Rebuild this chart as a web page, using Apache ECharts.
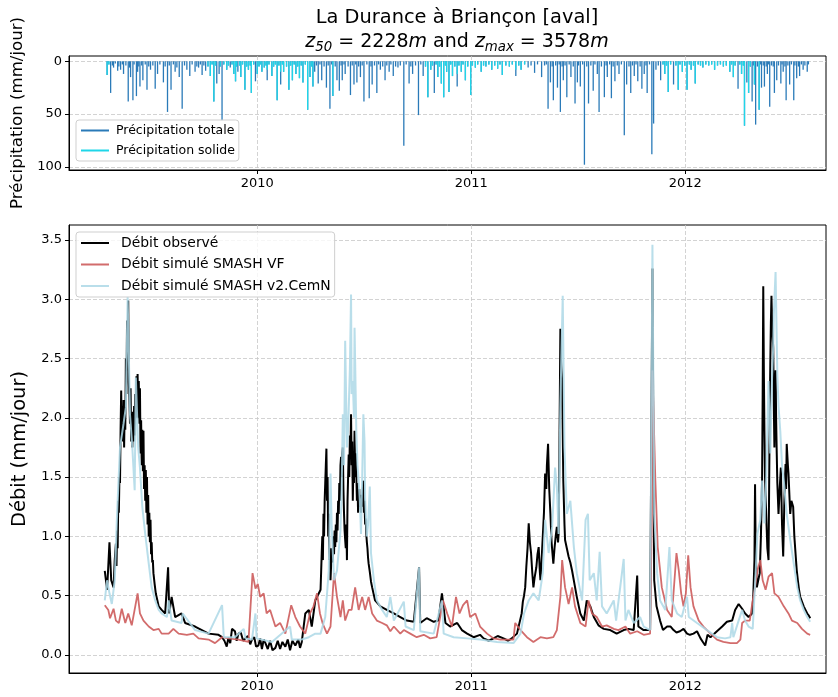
<!DOCTYPE html>
<html>
<head>
<meta charset="utf-8">
<script src="https://cdn.jsdelivr.net/npm/echarts@6/dist/echarts.min.js"></script>
<style>
html,body{margin:0;padding:0;background:#fff;}
#chart{width:838px;height:697px;}
</style>
</head>
<body>
<div id="chart"></div>
<script>
// ---- Data (time in days counted from 2010-01-01) ----
const ORIGIN = '2010-01-01';
const yearTicks = ['2010-01-01', '2011-01-01', '2012-01-01'];

// main precipitation events
const precipDays  = [-256,-250,-245,-238,-233,-228,-220,-216,-212,-206,-204,-200,-195,-188,-182,-174,-170,-160,-153,-147,-140,-133,-128,-120,-115,-106,-100,-94,-88,-80,-74,-69,-65,-60,-52,-46,-40,-37,-33,-28,-21,-15,-10,-3,0,8,12,17,25,34,40,45,54,60,66,72,78,86,90,95,98,104,110,118,124,129,136,140,145,150,159,165,170,176,182,191,196,204,210,218,225,232,240,250,259,265,275,283,291,296,302,308,314,318,323,327,333,341,348,355,364,372,382,390,400,410,418,430,441,450,462,473,485,496,500,505,512,517,522,528,535,542,546,551,558,565,573,580,583,592,597,604,610,617,626,630,637,643,649,656,660,665,673,676,680,688,695,701,710,718,725,733,740,747,760,780,795,806,812,820,826,831,835,838,844,848,850,856,860,865,870,874,882,886,893,897,902,908,915,920,925,931,938];
const precipTotal = [13,30,6,9,8,12,38,15,37,33,10,24,18,27,8,26,12,20,48,27,10,15,45,8,14,10,6,13,9,14,38,21,12,56,8,6,12,19,10,15,27,8,30,19,12,10,6,18,14,37,22,10,27,18,12,16,20,46,15,24,10,21,18,25,45,33,18,28,18,12,32,22,20,15,38,35,22,30,8,18,10,14,6,80,21,12,51,14,34,8,30,15,21,34,10,29,14,24,10,18,32,6,10,5,8,7,13,5,14,8,6,11,15,45,20,37,25,48,18,34,15,40,20,24,98,40,28,12,48,34,15,35,19,12,70,22,30,14,19,26,12,30,88,59,8,18,12,29,22,27,10,27,8,21,6,8,5,10,15,26,12,61,20,30,38,22,60,46,25,24,12,43,30,18,21,10,37,22,37,16,14,8,10];
const precipSolid = [13,0,0,0,0,0,0,0,0,0,0,0,0,0,0,0,0,0,0,0,0,0,0,0,0,0,0,0,0,14,38,0,0,0,8,0,12,19,0,15,27,8,30,0,12,10,6,8,14,37,10,10,27,18,12,16,20,46,15,24,0,0,0,0,0,33,0,0,0,0,0,0,0,0,0,0,0,0,0,0,0,0,0,0,0,0,0,0,34,8,0,15,21,34,10,29,14,12,10,18,32,6,10,5,8,7,13,5,8,8,0,0,0,0,0,0,0,0,0,0,0,0,0,0,0,0,0,0,0,0,0,0,0,0,0,0,0,0,0,0,0,0,0,0,0,0,12,29,0,27,10,27,8,21,6,8,5,10,15,0,12,61,0,30,0,22,0,46,0,0,0,0,0,0,0,0,0,0,0,0,0,0,0];
// small daily amounts: [day, total, solid]
const precipSmall = [[-253,3,3],[-247,4,0],[-242,2,0],[-236,5,0],[-230,3,0],[-224,4,0],[-218,6,0],[-210,3,0],[-202,5,0],[-197,4,0],[-191,3,0],[-185,5,0],[-178,4,0],[-166,3,0],[-157,5,0],[-150,4,0],[-143,3,0],[-137,6,0],[-124,4,0],[-111,3,0],[-103,5,0],[-97,3,0],[-91,4,0],[-84,5,5],[-77,3,3],[-71,4,4],[-63,5,5],[-57,3,3],[-49,4,4],[-43,3,3],[-35,5,5],[-30,4,4],[-25,3,3],[-18,5,5],[-12,4,4],[-6,3,3],[3,5,5],[5,3,3],[15,4,4],[20,3,3],[28,5,5],[31,3,3],[37,4,4],[43,3,3],[50,5,5],[57,4,4],[63,3,3],[69,5,5],[75,4,4],[82,3,3],[93,5,5],[101,4,0],[107,3,0],[114,5,0],[121,4,0],[127,3,0],[133,5,0],[143,4,0],[148,3,0],[155,5,0],[162,4,0],[168,3,0],[173,5,0],[179,4,0],[187,3,0],[194,5,0],[200,4,0],[207,3,0],[214,5,0],[221,4,0],[228,3,0],[236,5,0],[244,4,0],[254,3,0],[262,5,0],[270,4,0],[279,3,0],[287,5,5],[299,4,4],[305,3,3],[311,5,5],[321,4,4],[330,3,3],[337,5,5],[344,4,4],[351,3,3],[359,5,5],[367,4,4],[376,3,3],[386,4,4],[395,3,3],[405,4,4],[414,3,3],[424,4,4],[435,3,3],[446,4,4],[456,3,3],[467,4,0],[478,3,0],[490,4,0],[493,3,0],[503,5,0],[509,4,0],[515,3,0],[520,5,0],[525,4,0],[532,3,0],[539,5,0],[548,4,0],[555,3,0],[562,5,0],[569,4,0],[576,3,0],[587,5,0],[595,4,0],[601,3,0],[607,5,0],[614,4,0],[621,3,0],[634,5,0],[640,4,0],[646,3,0],[653,5,0],[663,4,0],[669,3,0],[684,4,0],[692,3,3],[698,4,4],[705,3,3],[714,4,4],[721,3,3],[729,4,4],[737,3,3],[744,4,4],[752,3,3],[756,4,4],[765,3,3],[770,4,4],[775,3,3],[785,4,4],[790,3,3],[800,4,4],[809,3,3],[815,4,4],[823,3,3],[829,4,4],[841,5,5],[846,4,0],[853,5,0],[858,3,0],[863,4,0],[868,5,0],[872,3,0],[877,4,0],[880,5,0],[889,4,0],[895,3,0],[900,5,0],[905,4,0],[911,3,0],[917,4,0],[923,5,0],[928,3,0],[934,4,0],[940,3,0]];

// observed discharge: [day, mm/jour]
const observed = [[-260,.71],[-256,.55],[-252,.95],[-249,.63],[-245,.57],[-243,.8],[-241,.94],[-240,.75],[-239,1.05],[-238,.9],[-237,1.3],[-236,1.2],[-235,1.5],[-234,1.45],[-233,1.9],[-232,2.23],[-231,1.85],[-230,2.1],[-229,1.8],[-228,2.15],[-227,1.75],[-226,2.09],[-225,1.9],[-224,2.5],[-223,2.2],[-222,2.82],[-221,2.4],[-220,2.99],[-219,2.3],[-218,2.17],[-217,1.95],[-216,2.25],[-215,1.8],[-214,2.0],[-213,1.75],[-212,2.05],[-211,1.8],[-210,2.1],[-209,1.85],[-208,2.2],[-207,2.0],[-206,2.35],[-205,2.05],[-204,2.37],[-203,2.0],[-202,2.31],[-201,1.95],[-200,2.25],[-199,1.7],[-198,1.98],[-197,1.6],[-196,1.9],[-195,1.55],[-194,1.89],[-193,1.4],[-192,1.6],[-191,1.3],[-190,1.56],[-189,1.2],[-188,1.5],[-187,1.1],[-186,1.35],[-185,1.0],[-184,1.2],[-183,.95],[-182,1.14],[-181,.85],[-180,.95],[-179,.78],[-178,.8],[-177,.69],[-175,.6],[-173,.52],[-168,.41],[-163,.38],[-157,.35],[-152,.74],[-150,.35],[-146,.49],[-140,.32],[-129,.35],[-123,.27],[-106,.24],[-83,.18],[-66,.17],[-60,.15],[-56,.12],[-52,.07],[-49,.15],[-46,.10],[-43,.22],[-38,.20],[-35,.12],[-32,.18],[-28,.19],[-24,.12],[-20,.14],[-16,.16],[-12,.09],[-9,.13],[-5,.15],[-2,.07],[2,.08],[5,.14],[8,.05],[11,.13],[14,.10],[18,.05],[22,.12],[26,.04],[31,.06],[35,.12],[39,.05],[43,.11],[48,.07],[52,.13],[56,.04],[60,.12],[65,.08],[70,.13],[73,.06],[76,.11],[82,.35],[88,.38],[93,.24],[99,.46],[103,.5],[108,.55],[109,.7],[110,.86],[111,1.0],[112,.8],[113,1.19],[114,1.0],[115,1.3],[116,1.45],[117,1.6],[118,1.74],[119,1.3],[120,1.5],[121,1.0],[122,1.19],[123,.8],[124,.9],[125,.63],[126,.75],[127,.9],[128,.78],[129,.83],[130,1.0],[131,.85],[132,1.05],[133,.91],[134,1.1],[135,.95],[136,1.2],[137,1.05],[138,1.3],[139,1.19],[140,1.45],[141,1.3],[142,1.6],[143,1.67],[144,1.5],[145,1.7],[146,1.75],[147,1.4],[148,1.2],[149,1.05],[150,.97],[151,.9],[152,1.1],[153,.8],[154,1.3],[155,1.5],[156,1.69],[157,1.5],[158,1.85],[159,1.7],[160,2.03],[161,1.6],[162,1.8],[163,1.3],[164,1.6],[165,1.45],[166,1.89],[167,1.5],[168,1.7],[169,1.53],[170,1.3],[171,1.45],[172,1.2],[173,1.19],[174,1.4],[175,1.25],[176,1.3],[177,1.2],[178,1.35],[179,1.25],[180,1.4],[181,1.47],[182,1.2],[183,1.3],[184,1.1],[185,1.15],[186,1.02],[187,.95],[188,.9],[189,.82],[190,.77],[192,.7],[194,.62],[196,.57],[201,.46],[210,.41],[221,.38],[233,.35],[244,.32],[255,.29],[267,.28],[276,.74],[278,.27],[289,.31],[301,.28],[309,.29],[315,.52],[321,.27],[329,.24],[341,.27],[349,.21],[358,.18],[369,.15],[380,.17],[386,.14],[395,.12],[403,.14],[410,.16],[420,.14],[428,.12],[434,.14],[443,.18],[451,.35],[453,.45],[455,.5],[457,.57],[459,.75],[461,.9],[463,1.11],[465,.95],[467,.86],[469,.7],[471,.57],[473,.65],[476,.74],[478,.85],[480,.91],[482,.7],[483,.63],[485,.8],[487,1.0],[489,1.2],[491,1.53],[493,1.4],[494,1.6],[496,1.78],[498,1.4],[500,1.19],[502,.95],[505,.77],[507,.9],[509,1.0],[511,1.08],[513,.95],[514,1.02],[515,1.5],[517,2.75],[518,2.5],[520,2.31],[521,1.9],[522,1.47],[524,1.1],[525,.97],[528,.9],[531,.83],[534,.78],[537,.71],[541,.6],[545,.49],[551,.35],[557,.29],[562,.46],[568,.41],[574,.32],[582,.25],[591,.22],[602,.21],[613,.18],[625,.21],[633,.22],[642,.21],[648,.67],[650,.24],[659,.21],[670,.21],[674,3.26],[677,.63],[681,.41],[687,.29],[692,.21],[699,.24],[705,.24],[710,.21],[715,.19],[721,.20],[727,.22],[733,.18],[738,.17],[744,.18],[750,.20],[756,.14],[760,.11],[764,.08],[768,.17],[773,.15],[784,.20],[793,.24],[801,.28],[810,.29],[815,.38],[821,.43],[827,.39],[832,.35],[838,.32],[844,.35],[846,.5],[848,.8],[849,1.44],[850,.9],[852,.57],[854,.62],[857,.69],[859,1.0],[861,1.47],[862,2.2],[863,3.11],[864,2.4],[865,1.89],[866,1.5],[868,1.19],[870,.9],[872,.8],[873,1.4],[874,2.0],[875,2.45],[876,2.8],[877,3.03],[878,2.8],[880,2.59],[881,2.1],[882,1.75],[883,2.2],[884,2.4],[885,1.98],[886,1.7],[887,1.45],[889,1.19],[891,1.4],[893,1.58],[895,1.1],[897,.83],[899,1.3],[901,1.61],[902,1.4],[903,1.78],[905,1.6],[906,1.53],[908,1.3],[909,1.19],[911,1.3],[914,1.25],[916,1.0],[918,.86],[920,.72],[922,.63],[924,.55],[926,.49],[929,.45],[932,.41],[935,.38],[938,.35],[941,.33],[943,.31]];

const vfDays = [-260,-254,-251,-245,-241,-236,-231,-225,-220,-214,-208,-204,-200,-194,-185,-177,-168,-163,-151,-143,-134,-120,-109,-100,-83,-72,-60,-49,-32,-15,-8,-3,1,5,11,16,22,31,39,48,58,65,73,82,90,96,102,107,112,119,125,131,136,142,146,150,156,161,167,173,179,184,190,196,204,213,221,227,233,244,250,261,272,284,295,306,317,324,332,339,345,351,358,363,372,380,392,403,415,426,437,440,449,460,471,483,494,505,511,517,520,525,531,537,542,551,560,565,571,579,588,596,608,616,628,636,648,659,670,673,674,679,683,690,699,707,715,719,723,727,731,735,739,744,753,761,773,784,795,807,818,824,827,832,840,845,849,853,858,862,867,872,878,882,889,898,906,912,921,929,938,943];
const vfQ    = [0.42,0.38,0.31,0.39,0.29,0.27,0.39,0.27,0.35,0.25,0.41,0.52,0.35,0.29,0.24,0.21,0.22,0.18,0.18,0.22,0.18,0.17,0.18,0.14,0.13,0.10,0.15,0.14,0.13,0.11,0.69,0.56,0.60,0.49,0.52,0.35,0.38,0.24,0.27,0.18,0.42,0.32,0.24,0.18,0.35,0.41,0.52,0.35,0.26,0.18,0.24,0.69,0.49,0.32,0.46,0.29,0.38,0.38,0.57,0.38,0.49,0.38,0.49,0.35,0.29,0.27,0.25,0.20,0.24,0.18,0.21,0.18,0.15,0.17,0.14,0.15,0.46,0.35,0.24,0.49,0.35,0.42,0.46,0.32,0.35,0.24,0.18,0.14,0.13,0.13,0.13,0.27,0.21,0.15,0.11,0.15,0.14,0.15,0.21,0.49,0.80,0.57,0.43,0.57,0.41,0.27,0.24,0.46,0.35,0.32,0.24,0.25,0.22,0.21,0.24,0.18,0.20,0.17,0.18,1.19,2.40,1.47,0.91,0.57,0.38,0.32,0.86,0.71,0.52,0.41,0.52,0.84,0.57,0.41,0.29,0.24,0.18,0.13,0.11,0.10,0.10,0.13,0.27,0.29,0.29,0.46,0.57,0.71,0.80,0.63,0.55,0.66,0.69,0.52,0.49,0.41,0.35,0.29,0.27,0.22,0.18,0.17];

// simulated discharge SMASH v2.CemN: [day, mm/jour]
const cemN = [[-260,.46],[-256,.63],[-252,.52],[-248,.43],[-243,.63],[-239,1.19],[-234,1.75],[-228,1.95],[-224,2.09],[-221,3.02],[-219,2.54],[-217,2.03],[-213,1.75],[-209,1.39],[-207,2.34],[-203,1.75],[-200,1.58],[-196,1.25],[-191,1.02],[-185,.77],[-180,.57],[-174,.46],[-168,.38],[-163,.35],[-154,.32],[-151,.46],[-146,.29],[-129,.27],[-127,.35],[-106,.21],[-83,.18],[-60,.42],[-57,.15],[-38,.15],[-23,.22],[-20,.14],[-9,.13],[-3,.35],[-1,.14],[25,.11],[56,.24],[59,.13],[76,.13],[88,.15],[99,.18],[108,.18],[116,.32],[122,.71],[125,1.53],[127,1.08],[131,.63],[136,.71],[142,1.05],[144,1.4],[146,2.03],[148,1.6],[150,2.65],[153,1.75],[155,1.9],[158,2.41],[160,3.04],[161,2.2],[163,2.31],[165,2.0],[166,2.76],[169,1.89],[171,1.6],[173,1.47],[175,1.3],[177,1.02],[179,1.5],[181,2.03],[183,1.8],[184,1.33],[187,1.00],[189,1.1],[192,1.42],[194,.86],[199,.63],[204,.46],[213,.38],[221,.32],[227,.49],[233,.29],[250,.45],[253,.24],[267,.21],[276,.74],[278,.20],[301,.18],[315,.46],[318,.18],[335,.15],[358,.14],[380,.13],[409,.11],[437,.10],[449,.18],[455,.35],[463,.46],[471,.52],[480,.46],[487,.69],[491,1.14],[497,.86],[503,1.08],[508,1.58],[511,1.42],[514,1.02],[517,2.12],[521,3.03],[524,1.75],[528,1.19],[534,1.30],[540,.91],[545,.69],[554,.46],[560,1.14],[564,1.19],[567,.63],[574,.69],[579,.46],[584,.87],[588,.41],[596,.35],[608,.46],[612,.29],[625,.81],[628,.29],[633,.38],[642,.27],[653,.32],[659,.24],[670,.21],[674,3.46],[677,1.19],[682,.69],[687,.46],[696,.38],[703,.91],[707,.46],[716,.35],[724,.32],[733,.49],[736,.32],[750,.27],[767,.21],[784,.15],[798,.14],[807,.15],[810,.27],[812,.15],[821,.29],[827,.38],[832,.29],[838,.24],[845,.22],[850,.69],[853,1.02],[858,1.14],[861,1.47],[863,1.3],[865,1.11],[868,1.47],[870,1.9],[872,2.31],[875,1.70],[878,2.34],[880,2.6],[881,2.87],[884,3.23],[887,2.37],[889,2.1],[892,1.89],[895,1.6],[898,1.47],[903,1.19],[909,.97],[915,.77],[921,.57],[926,.46],[932,.38],[938,.32],[943,.28]];

const qTicks = [0, 0.5, 1.0, 1.5, 2.0, 2.5, 3.0, 3.5];
const pTicks = [0, 50, 100];

// ---- Helpers ----
const DAY = 86400000;
const T0 = Date.parse(ORIGIN + 'T00:00:00Z');
const yearDays = yearTicks.map(s => Math.round((Date.parse(s + 'T00:00:00Z') - T0) / DAY));
const yearLabel = d => { const i = yearDays.indexOf(Math.round(d)); return i >= 0 ? yearTicks[i].slice(0, 4) : ''; };
const pairs = (days, vals) => days.map((d, i) => [d, vals[i]]);

const totalData = pairs(precipDays, precipTotal).concat(precipSmall.map(r => [r[0], r[1]]));
const solidData = pairs(precipDays, precipSolid).concat(precipSmall.map(r => [r[0], r[2]])).filter(p => p[1] > 0);

const FONT = 'DejaVu Sans';
const gridLineStyle = { color: '#c8c8c8', type: [4, 2], width: 0.8 };

function xAxisDef(gridIndex) {
  return {
    type: 'value', gridIndex, min: -321, max: 970,
    axisLine: { show: true, onZero: false, lineStyle: { color: '#000', width: 1 } },
    axisTick: { show: true, length: 4, lineStyle: { color: '#000' }, customValues: yearDays },
    axisLabel: { customValues: yearDays, color: '#000', fontFamily: FONT, fontSize: 13, margin: 7,
      formatter: yearLabel },
    splitLine: { show: true, lineStyle: gridLineStyle }
  };
}

const chart = echarts.init(document.getElementById('chart'), null, { renderer: 'canvas' });
chart.setOption({
  animation: false,
  backgroundColor: '#fff',
  graphic: [
    { type: 'text', x: 457, y: 18, style: { text: 'La Durance à Briançon [aval]', fill: '#000',
      font: '19.4px "DejaVu Sans"', textAlign: 'center', textVerticalAlign: 'middle' } },
    { type: 'text', x: 457, y: 42, style: {
      text: '{i|z}{s|50}{n| = 2228}{i|m}{n| and }{i|z}{s|max}{n| = 3578}{i|m}',
      textAlign: 'center', textVerticalAlign: 'middle', fill: '#000',
      rich: {
        n: { fontFamily: FONT, fontSize: 19, lineHeight: 24, verticalAlign: 'middle', fill: '#000' },
        i: { fontFamily: FONT, fontStyle: 'italic', fontSize: 19, lineHeight: 24, verticalAlign: 'middle', fill: '#000' },
        s: { fontFamily: FONT, fontStyle: 'italic', fontSize: 13.3, lineHeight: 24, verticalAlign: 'bottom', fill: '#000' }
      } } }
  ],
  grid: [
    { left: 69, right: 12, top: 56, height: 114, show: true, borderColor: '#000', borderWidth: 1 },
    { left: 69, right: 12, top: 225, height: 448, show: true, borderColor: '#000', borderWidth: 1 }
  ],
  xAxis: [xAxisDef(0), xAxisDef(1)],
  yAxis: [
    { type: 'value', gridIndex: 0, inverse: true, min: -5, max: 103,
      name: 'Précipitation (mm/jour)', nameLocation: 'middle', nameGap: 40,
      nameTextStyle: { fontFamily: FONT, fontSize: 16.6, color: '#000' },
      axisLine: { show: true, onZero: false, lineStyle: { color: '#000' } },
      axisTick: { show: true, length: 4, lineStyle: { color: '#000' }, customValues: pTicks },
      axisLabel: { customValues: pTicks, color: '#000', fontFamily: FONT, fontSize: 13, margin: 7 },
      splitLine: { show: true, lineStyle: gridLineStyle } },
    { type: 'value', gridIndex: 1, min: -0.152, max: 3.626,
      name: 'Débit (mm/jour)', nameLocation: 'middle', nameGap: 33,
      nameTextStyle: { fontFamily: FONT, fontSize: 19.5, color: '#000' },
      axisLine: { show: true, onZero: false, lineStyle: { color: '#000' } },
      axisTick: { show: true, length: 4, lineStyle: { color: '#000' }, customValues: qTicks },
      axisLabel: { customValues: qTicks, color: '#000', fontFamily: FONT, fontSize: 13, margin: 7,
        formatter: v => v.toFixed(1) },
      splitLine: { show: true, lineStyle: gridLineStyle } }
  ],
  legend: [
    { data: ['Précipitation totale', 'Précipitation solide'], orient: 'vertical', left: 76, top: 120,
      icon: 'rect', itemWidth: 28, itemHeight: 2, itemGap: 5, padding: [3, 4, 3, 5],
      textStyle: { fontFamily: FONT, fontSize: 12.5, lineHeight: 15, color: '#000', padding: [0, 0, 0, 2] },
      borderColor: '#cfcfcf', borderWidth: 1, borderRadius: 3, backgroundColor: 'rgba(255,255,255,0.8)' },
    { data: ['Débit observé', 'Débit simulé SMASH VF', 'Débit simulé SMASH v2.CemN'], orient: 'vertical',
      left: 76, top: 232, icon: 'rect', itemWidth: 28, itemHeight: 2, itemGap: 5.5, padding: [3, 4, 3, 5],
      textStyle: { fontFamily: FONT, fontSize: 13.9, lineHeight: 16, color: '#000', padding: [0, 0, 0, 7] },
      borderColor: '#cfcfcf', borderWidth: 1, borderRadius: 3, backgroundColor: 'rgba(255,255,255,0.8)' }
  ],
  series: [
    { name: 'Précipitation totale', type: 'bar', xAxisIndex: 0, yAxisIndex: 0,
      data: totalData, barWidth: 1.3, barGap: '-100%',
      itemStyle: { color: '#2a7ab8' } },
    { name: 'Précipitation solide', type: 'bar', xAxisIndex: 0, yAxisIndex: 0,
      data: solidData, barWidth: 1.3, barGap: '-100%',
      itemStyle: { color: '#1fd6e8' } },
    { name: 'Débit observé', type: 'line', xAxisIndex: 1, yAxisIndex: 1, data: observed,
      showSymbol: false, symbol: 'none', itemStyle: { color: '#000' }, lineStyle: { color: '#000', width: 2 } },
    { name: 'Débit simulé SMASH VF', type: 'line', xAxisIndex: 1, yAxisIndex: 1, data: pairs(vfDays, vfQ),
      showSymbol: false, symbol: 'none', itemStyle: { color: 'rgba(205,92,92,0.9)' },
      lineStyle: { color: 'rgba(205,92,92,0.9)', width: 1.8 } },
    { name: 'Débit simulé SMASH v2.CemN', type: 'line', xAxisIndex: 1, yAxisIndex: 1, data: cemN,
      showSymbol: false, symbol: 'none', itemStyle: { color: 'rgba(173,216,230,0.85)' },
      lineStyle: { color: 'rgba(173,216,230,0.85)', width: 2 } }
  ]
});
</script>
</body>
</html>
